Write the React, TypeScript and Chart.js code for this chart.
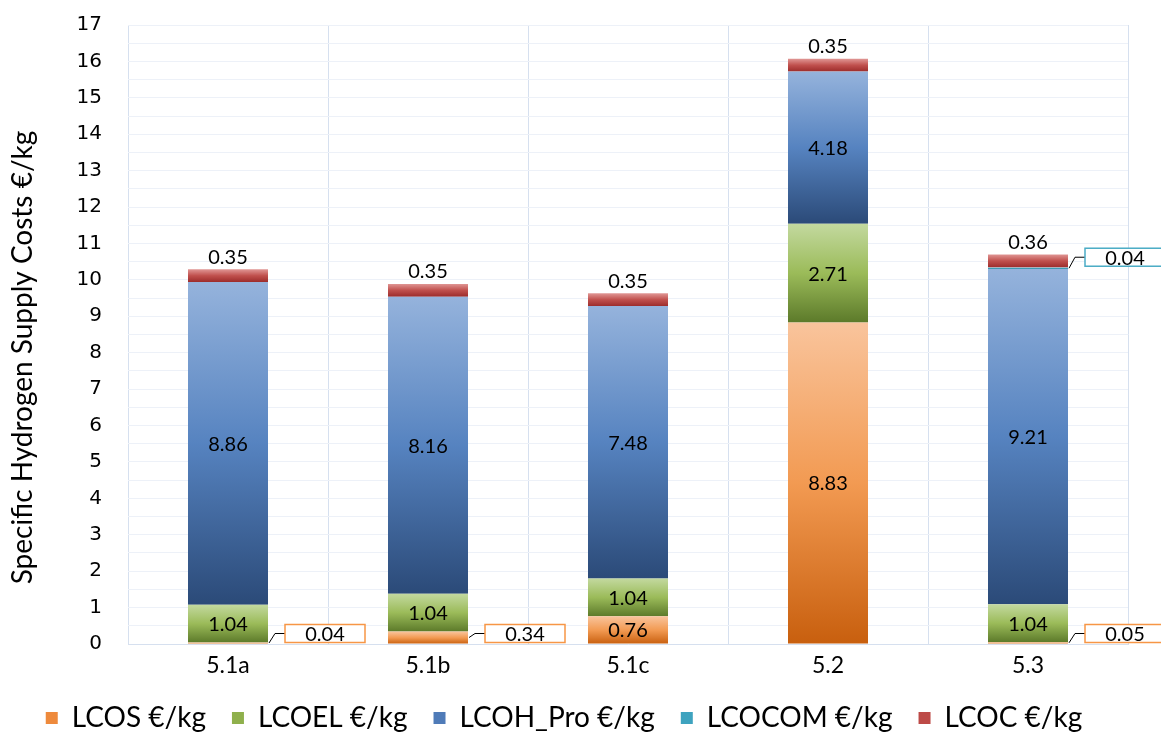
import { useEffect, useRef } from "react";
import { Chart, registerables } from "chart.js";

Chart.register(...registerables);

// Scenario categories along the x axis
const scenarios = ["5.1a", "5.1b", "5.1c", "5.2", "5.3"];

// Cost components in €/kg, one value per scenario
const lcos = [0.04, 0.34, 0.76, 8.83, 0.05];
const lcoel = [1.04, 1.04, 1.04, 2.71, 1.04];
const lcohPro = [8.86, 8.16, 7.48, 4.18, 9.21];
const lcocom = [0, 0, 0, 0, 0.04];
const lcoc = [0.35, 0.35, 0.35, 0.35, 0.36];

const seriesLabels = ["LCOS €/kg", "LCOEL €/kg", "LCOH_Pro €/kg", "LCOCOM €/kg", "LCOC €/kg"];
const seriesValues = [lcos, lcoel, lcohPro, lcocom, lcoc];

const yAxisTitle = "Specific Hydrogen Supply Costs €/kg";
const yMin = 0;
const yMax = 17;
const yGridStep = 0.5;

// top / middle / bottom colours of each segment's vertical gradient
const gradientStops = [
  ["#f9c49c", "#f29a52", "#c85f0e"],
  ["#c3d99f", "#9bbb59", "#5c7a2a"],
  ["#95b3dc", "#5683c0", "#2b4a78"],
  ["#8fd0e4", "#4bacc6", "#2a7d95"],
  ["#e09694", "#c0504d", "#9c2c2b"],
];
const solidColors = ["#ee8a3c", "#8fb04c", "#4f7bb8", "#3ea3bf", "#bd4a47"];
const calloutBorders = ["#f79646", "#8fb04c", "#4f7bb8", "#4bacc6", "#c0504d"];

const FONT = "Lato, 'Open Sans', sans-serif";

function segmentFill(si: number) {
  return (ctx: any) => {
    const chart = ctx.chart;
    const yScale = chart.scales && chart.scales.y;
    if (ctx.type !== "data" || !yScale || !chart.chartArea) return solidColors[si];
    const i = ctx.dataIndex;
    let base = 0;
    for (let k = 0; k < si; k++) base += seriesValues[k][i] || 0;
    const top = base + (seriesValues[si][i] || 0);
    const yTop = yScale.getPixelForValue(top);
    const yBottom = yScale.getPixelForValue(base);
    if (!isFinite(yTop) || !isFinite(yBottom) || yBottom - yTop < 0.5) return solidColors[si];
    const g = chart.ctx.createLinearGradient(0, yTop, 0, yBottom);
    g.addColorStop(0, gradientStops[si][0]);
    g.addColorStop(0.5, gradientStops[si][1]);
    g.addColorStop(1, gradientStops[si][2]);
    return g;
  };
}

// Writes the value of every segment: inside, above the top segment, or in a callout box
const valueLabels = {
  id: "valueLabels",
  afterDatasetsDraw(chart: any) {
    const c = chart.ctx;
    const last = chart.data.datasets.length - 1;
    c.save();
    c.font = `20px ${FONT}`;
    c.textAlign = "center";
    c.textBaseline = "middle";
    chart.data.datasets.forEach((ds: any, di: number) => {
      const meta = chart.getDatasetMeta(di);
      meta.data.forEach((el: any, i: number) => {
        const v = ds.data[i];
        if (!v) return;
        const { x, y, base, width } = el.getProps(["x", "y", "base", "width"], true);
        const text = v.toFixed(2);
        const mid = (y + base) / 2;
        if (di === last) {
          c.fillStyle = "#000";
          c.fillText(text, x, y - 12);
          return;
        }
        if (base - y < 20) {
          const right = x + width / 2;
          const boxW = 80;
          const boxH = 18;
          const boxL = right + 17;
          const boxCY = di === 0 ? base - 10 : mid - 11;
          c.strokeStyle = "#000";
          c.lineWidth = 1;
          c.beginPath();
          c.moveTo(right + 1, mid);
          c.lineTo(right + 7, boxCY);
          c.lineTo(boxL, boxCY);
          c.stroke();
          c.fillStyle = "#fff";
          c.fillRect(boxL, boxCY - boxH / 2, boxW, boxH);
          c.strokeStyle = calloutBorders[di];
          c.lineWidth = 1.5;
          c.strokeRect(boxL, boxCY - boxH / 2, boxW, boxH);
          c.fillStyle = "#000";
          c.fillText(text, boxL + boxW / 2, boxCY + 1);
          return;
        }
        c.fillStyle = "#000";
        c.fillText(text, x, mid + 1);
      });
    });
    c.restore();
  },
};

// Rotated y-axis title, sitting a little below the plot's vertical centre
const yTitle = {
  id: "yTitle",
  afterDraw(chart: any) {
    const c = chart.ctx;
    const area = chart.chartArea;
    c.save();
    c.translate(23, (area.top + area.bottom) / 2 + 23);
    c.rotate(-Math.PI / 2);
    c.font = `28px ${FONT}`;
    c.fillStyle = "#000";
    c.textAlign = "center";
    c.textBaseline = "middle";
    c.fillText(yAxisTitle, 0, 0);
    c.restore();
  },
};

export default function App() {
  const canvasRef = useRef<HTMLCanvasElement | null>(null);

  useEffect(() => {
    if (!canvasRef.current) return;
    const chart = new Chart(canvasRef.current, {
      type: "bar",
      data: {
        labels: scenarios,
        datasets: seriesValues.map((vals, si) => ({
          label: seriesLabels[si],
          data: vals,
          backgroundColor: segmentFill(si),
          borderWidth: 0,
          barPercentage: 0.4,
          categoryPercentage: 1,
        })),
      },
      options: {
        animation: false,
        responsive: false,
        devicePixelRatio: 1,
        layout: { padding: { top: 25, right: 33, left: 0, bottom: -7 } },
        plugins: {
          tooltip: { enabled: false },
          legend: {
            position: "bottom",
            labels: {
              font: { family: FONT, size: 28 },
              color: "#000",
              boxWidth: 12,
              boxHeight: 12,
              padding: 26,
              generateLabels: (ch: any) =>
                ch.data.datasets.map((ds: any, i: number) => ({
                  text: ds.label,
                  fillStyle: solidColors[i],
                  strokeStyle: solidColors[i],
                  lineWidth: 0,
                  hidden: false,
                  datasetIndex: i,
                  fontColor: "#000",
                })),
            },
          },
        },
        scales: {
          x: {
            stacked: true,
            grid: { color: "#d6e0ef", lineWidth: 1, drawTicks: false, offset: true },
            border: { color: "#d6e0ef" },
            ticks: { font: { family: FONT, size: 23 }, color: "#000", padding: 8 },
            afterFit: (s: any) => {
              s.height = 34;
            },
          },
          y: {
            stacked: true,
            min: yMin,
            max: yMax,
            grid: { color: "#edf1f8", lineWidth: 1, drawTicks: false },
            border: { display: false },
            ticks: {
              stepSize: yGridStep,
              autoSkip: false,
              padding: 26,
              color: "#000",
              font: { family: "'DejaVu Sans', sans-serif", size: 20 },
              callback: (v: any) => (Number.isInteger(Number(v)) ? String(v) : ""),
            },
            afterFit: (s: any) => {
              s.width = 128;
              s.paddingTop = 0;
              s.paddingBottom = 0;
            },
          },
        },
      },
      plugins: [valueLabels, yTitle],
    } as any);
    return () => chart.destroy();
  }, []);

  return (
    <div style={{ position: "absolute", left: 0, top: 0, width: 1161, height: 735, background: "#fff" }}>
      <canvas ref={canvasRef} width={1161} height={735} style={{ display: "block" }} />
    </div>
  );
}
